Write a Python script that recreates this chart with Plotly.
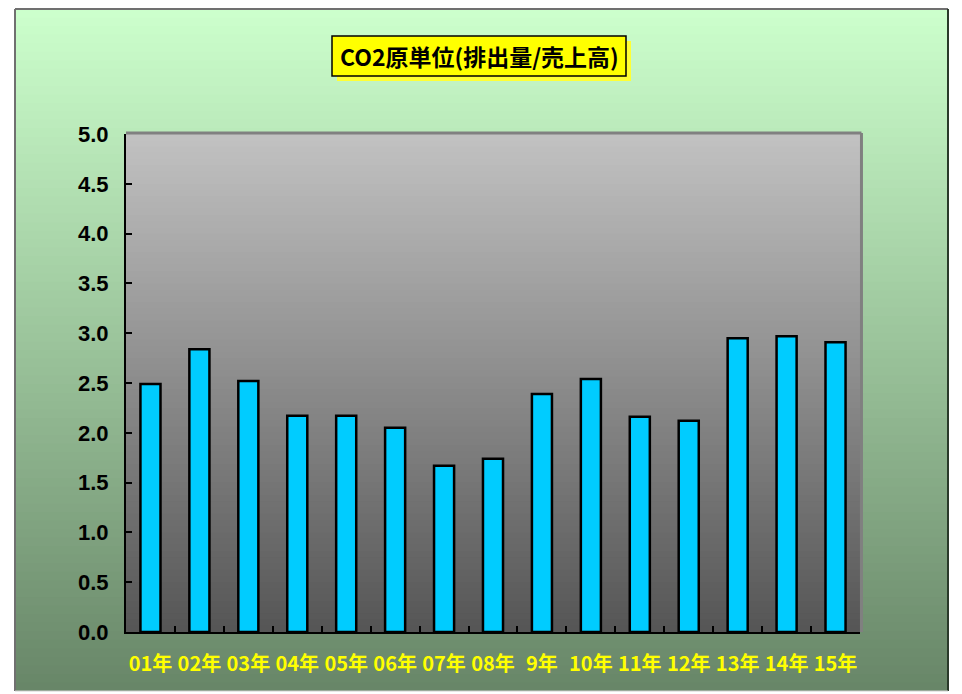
import plotly.graph_objects as go

categories = ["01年", "02年", "03年", "04年", "05年", "06年", "07年", "08年",
              "9年", "10年", "11年", "12年", "13年", "14年", "15年"]
values = [2.49, 2.84, 2.52, 2.17, 2.17, 2.05, 1.67, 1.74,
          2.39, 2.54, 2.16, 2.12, 2.95, 2.97, 2.91]
title_text = "CO2原単位(排出量/売上高)"
y_ticks = [0, 0.5, 1.0, 1.5, 2.0, 2.5, 3.0, 3.5, 4.0, 4.5, 5.0]

W, H = 962, 694
L, R, T, B = 126, 860, 134, 632  # plot area in pixels


def px_x(p):
    return (p - L) / (R - L)


def px_y(p):
    return (B - p) / (B - T)


def lerp(c1, c2, t):
    return "rgb(%d,%d,%d)" % tuple(round(a + (b - a) * t) for a, b in zip(c1, c2))


shapes = []
# outer gradient frame
oy0, oy1 = 9, 691
ox0, ox1 = 15, 948
n = 80
for i in range(n):
    y0 = oy0 + (oy1 - oy0) * i / n
    y1 = oy0 + (oy1 - oy0) * (i + 1) / n + 0.8
    shapes.append(dict(type="rect", xref="paper", yref="paper", layer="below",
                       x0=px_x(ox0), x1=px_x(ox1), y0=px_y(min(y1, oy1)), y1=px_y(y0),
                       fillcolor=lerp((204, 255, 204), (104, 134, 104), i / (n - 1)),
                       line=dict(width=0)))
# outer border
shapes.append(dict(type="line", xref="paper", yref="paper", x0=px_x(ox0), x1=px_x(ox1),
                   y0=px_y(oy0), y1=px_y(oy0), line=dict(color="#707070", width=2)))
shapes.append(dict(type="line", xref="paper", yref="paper", x0=px_x(ox0), x1=px_x(ox0),
                   y0=px_y(oy0), y1=px_y(oy1), line=dict(color="#707070", width=2)))
shapes.append(dict(type="line", xref="paper", yref="paper", x0=px_x(ox1), x1=px_x(ox1),
                   y0=px_y(oy0), y1=px_y(oy1), line=dict(color="#2a3a2a", width=2)))
shapes.append(dict(type="line", xref="paper", yref="paper", x0=px_x(ox0), x1=px_x(ox1),
                   y0=px_y(oy1), y1=px_y(oy1), line=dict(color="#d0d0d0", width=1)))

# plot area gradient
m = 80
for i in range(m):
    y0 = T + (B - T) * i / m
    y1 = T + (B - T) * (i + 1) / m + 0.8
    shapes.append(dict(type="rect", xref="paper", yref="paper", layer="below",
                       x0=0, x1=1, y0=px_y(min(y1, B)), y1=px_y(y0),
                       fillcolor=lerp((193, 193, 193), (86, 86, 86), i / (m - 1)),
                       line=dict(width=0)))
# gray top/right border of plot area
shapes.append(dict(type="line", xref="paper", yref="paper", x0=0, x1=1.002, y0=1.002, y1=1.002,
                   line=dict(color="#808080", width=3)))
shapes.append(dict(type="line", xref="paper", yref="paper", x0=1.002, x1=1.002, y0=0, y1=1.002,
                   line=dict(color="#808080", width=3)))

# title box with shadow
tb = (332, 626, 36, 76)
shapes.append(dict(type="rect", xref="paper", yref="paper",
                   x0=px_x(tb[0] + 5), x1=px_x(tb[1] + 5), y0=px_y(tb[3] + 5), y1=px_y(tb[2] + 5),
                   fillcolor="#ffff33", line=dict(width=0)))
shapes.append(dict(type="rect", xref="paper", yref="paper",
                   x0=px_x(tb[0]), x1=px_x(tb[1]), y0=px_y(tb[3]), y1=px_y(tb[2]),
                   fillcolor="#ffff00", line=dict(color="#000000", width=1.5)))

fig = go.Figure()
fig.add_trace(go.Bar(
    x=categories, y=values,
    marker=dict(color="#00ccff", line=dict(color="#000000", width=2.5)),
    hoverinfo="x+y",
))

fig.update_layout(
    width=W, height=H,
    margin=dict(l=L, r=W - R, t=T, b=H - B, pad=0, autoexpand=False),
    paper_bgcolor="#ffffff",
    plot_bgcolor="rgba(0,0,0,0)",
    bargap=0.59,
    showlegend=False,
    shapes=shapes,
    annotations=[dict(text="<b>" + title_text + "</b>", xref="paper", yref="paper",
                      x=px_x((tb[0] + tb[1]) / 2), y=px_y((tb[2] + tb[3]) / 2),
                      xanchor="center", yanchor="middle", showarrow=False,
                      font=dict(family="Noto Sans CJK JP", size=23, color="#000000"))],
)
fig.update_yaxes(range=[0, 5], tickvals=y_ticks, tickformat=".1f",
                 ticks="inside", ticklen=6, tickwidth=2, tickcolor="#000000",
                 showline=True, linecolor="#000000", linewidth=2, automargin=False,
                 showgrid=False, zeroline=False, ticklabelstandoff=11,
                 tickfont=dict(family="Liberation Sans", size=22, color="#000000", weight="bold"))
fig.update_xaxes(ticks="inside", tickson="boundaries", ticklen=6, tickwidth=2,
                 tickcolor="#000000", showline=True, linecolor="#000000", linewidth=2,
                 showgrid=False, ticklabelstandoff=13, tickangle=0, automargin=False,
                 tickfont=dict(family="Noto Sans CJK JP", size=20, color="#ffff00", weight="bold"))

fig.write_html("out.html")
